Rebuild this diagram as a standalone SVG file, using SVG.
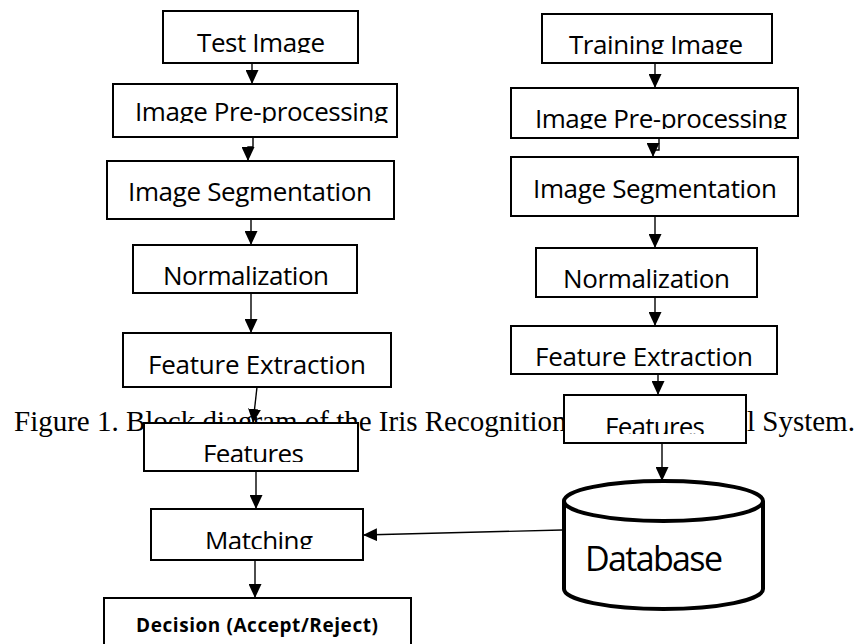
<svg xmlns="http://www.w3.org/2000/svg" width="862" height="644" viewBox="0 0 862 644">
<style>
.box{fill:#fff;stroke:#000;stroke-width:2}
.lbl{font-family:"Open Sans","Liberation Sans",sans-serif;font-size:26px;fill:#000}
.bold{font-family:"Open Sans","Liberation Sans",sans-serif;font-size:19px;font-weight:bold;fill:#000}
.cap{font-family:"Liberation Serif","Times New Roman",serif;font-size:29px;fill:#000}
.con{fill:none;stroke:#000;stroke-width:1.4}
.db{fill:#fff;stroke:#000;stroke-width:4}
</style>
<defs>
<marker id="ah" markerUnits="userSpaceOnUse" markerWidth="14" markerHeight="13" refX="14" refY="6.5" orient="auto">
<path d="M0,0 L14,6.5 L0,13 z" fill="#000"/>
</marker>
<clipPath id="cTest"><rect x="163" y="11" width="195" height="42"/></clipPath>
<clipPath id="cPreL"><rect x="113" y="84" width="284" height="39"/></clipPath>
<clipPath id="cTrain"><rect x="542" y="14" width="230" height="40"/></clipPath>
<clipPath id="cPreR"><rect x="511" y="88" width="287" height="41"/></clipPath>
<clipPath id="cFeatL"><rect x="144" y="423" width="214" height="39"/></clipPath>
<clipPath id="cFeatR"><rect x="564" y="395" width="182" height="39"/></clipPath>
<clipPath id="cMatch"><rect x="151" y="509" width="212" height="40"/></clipPath>
</defs>

<text class="cap" x="14" y="431">Figure 1. Block diagram of the Iris Recognition <tspan x="666.4">Control System.</tspan></text>

<g id="test-image">
<rect class="box" x="163" y="11" width="195" height="52"/>
<text class="lbl" x="197" y="52" textLength="128" clip-path="url(#cTest)">Test Image</text>
</g>
<g id="preproc-left">
<rect class="box" x="113" y="84" width="284" height="53"/>
<text class="lbl" x="135" y="121" textLength="253" clip-path="url(#cPreL)">Image Pre-processing</text>
</g>
<g id="seg-left">
<rect class="box" x="107" y="161" width="287" height="58"/>
<text class="lbl" x="128" y="201" textLength="244">Image Segmentation</text>
</g>
<g id="norm-left">
<rect class="box" x="133" y="245" width="224" height="48"/>
<text class="lbl" x="163" y="285" textLength="166">Normalization</text>
</g>
<g id="fe-left">
<rect class="box" x="123" y="333" width="268" height="54"/>
<text class="lbl" x="148" y="374" textLength="218">Feature Extraction</text>
</g>
<g id="features-left">
<rect class="box" x="144" y="423" width="214" height="48"/>
<text class="lbl" x="203" y="463" textLength="101" clip-path="url(#cFeatL)">Features</text>
</g>
<g id="matching">
<rect class="box" x="151" y="509" width="212" height="51"/>
<text class="lbl" x="205" y="550" textLength="108" clip-path="url(#cMatch)">Matching</text>
</g>
<g id="decision">
<rect class="box" x="104" y="598" width="307" height="70"/>
<text class="bold" x="136" y="632" textLength="242">Decision (Accept/Reject)</text>
</g>

<g id="training-image">
<rect class="box" x="542" y="14" width="230" height="49"/>
<text class="lbl" x="569" y="54" textLength="174" clip-path="url(#cTrain)">Training Image</text>
</g>
<g id="preproc-right">
<rect class="box" x="511" y="88" width="287" height="50"/>
<text class="lbl" x="535" y="128" textLength="252" clip-path="url(#cPreR)">Image Pre-processing</text>
</g>
<g id="seg-right">
<rect class="box" x="511" y="157" width="287" height="59"/>
<text class="lbl" x="533" y="198" textLength="244">Image Segmentation</text>
</g>
<g id="norm-right">
<rect class="box" x="536" y="248" width="221" height="49"/>
<text class="lbl" x="563" y="288" textLength="167">Normalization</text>
</g>
<g id="fe-right">
<rect class="box" x="511" y="326" width="266" height="48"/>
<text class="lbl" x="535" y="366" textLength="218">Feature Extraction</text>
</g>
<g id="features-right">
<rect class="box" x="564" y="395" width="182" height="48"/>
<text class="lbl" x="605" y="436" textLength="100" clip-path="url(#cFeatR)">Features</text>
</g>
<g id="database">
<path class="db" d="M564,501 L564,589 A99.5,20 0 0 0 763,589 L763,501"/>
<ellipse class="db" cx="663.5" cy="501" rx="99.5" ry="20"/>
<text class="lbl" style="font-size:34px" x="585" y="571" textLength="138">Database</text>
</g>

<g id="connectors">
<path class="con" d="M252,63 L252,84" marker-end="url(#ah)"/>
<path class="con" d="M253,137 L253,147 L248,147 L248,161" marker-end="url(#ah)"/>
<path class="con" d="M251,219 L251,245" marker-end="url(#ah)"/>
<path class="con" d="M251,293 L251,333" marker-end="url(#ah)"/>
<path class="con" d="M257,387 L253,423" marker-end="url(#ah)"/>
<path class="con" d="M256,471 L256,509" marker-end="url(#ah)"/>
<path class="con" d="M255,560 L255,598" marker-end="url(#ah)"/>
<path class="con" d="M655,63 L655,88" marker-end="url(#ah)"/>
<path class="con" d="M659,138 L659,150 L653,150 L653,157" marker-end="url(#ah)"/>
<path class="con" d="M655,216 L655,248" marker-end="url(#ah)"/>
<path class="con" d="M655,297 L655,326" marker-end="url(#ah)"/>
<path class="con" d="M658,374 L658,395" marker-end="url(#ah)"/>
<path class="con" d="M662,443 L662,481" marker-end="url(#ah)"/>
<path class="con" d="M562,530 L363,535" marker-end="url(#ah)"/>
</g>
</svg>
